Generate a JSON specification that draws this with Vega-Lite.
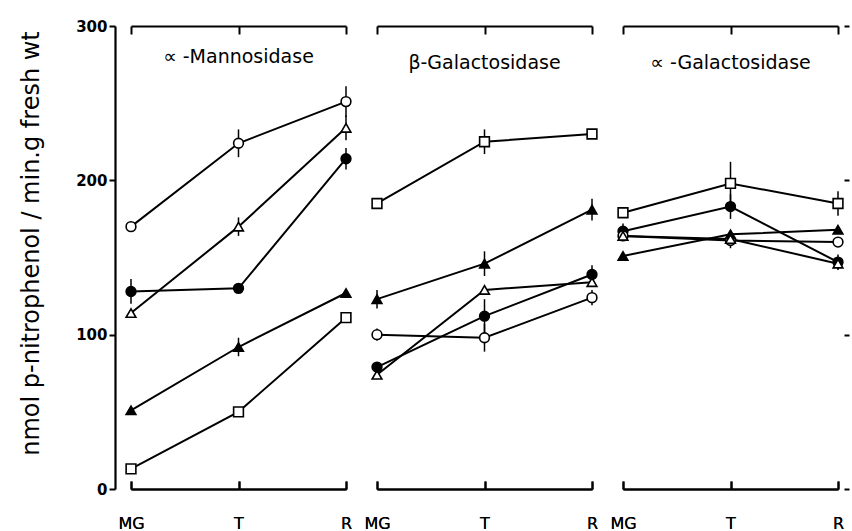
{
  "$schema": "https://vega.github.io/schema/vega-lite/v6.json",
  "autosize": {"type": "pad"},
  "padding": {"left": 19, "top": 19, "right": 0, "bottom": 0},
  "background": "white",
  "bounds": "flush",
  "spacing": 31,
  "config": {
    "view": {"stroke": null},
    "font": "DejaVu Sans",
    "axis": {"domainColor": "black", "tickColor": "black", "labelColor": "black", "titleColor": "black", "grid": false, "domainWidth": 2.2, "tickWidth": 2},
    "title": {"color": "black", "font": "DejaVu Sans", "fontSize": 19, "fontWeight": "normal", "anchor": "middle", "frame": "group", "baseline": "middle", "offset": -48}
  },
  "data": {"values": [
    {"enzyme": "aMan", "stage": "MG", "series": "open circle", "value": 170, "err": 0},
    {"enzyme": "aMan", "stage": "T", "series": "open circle", "value": 224, "err": 9},
    {"enzyme": "aMan", "stage": "R", "series": "open circle", "value": 251, "err": 10},
    {"enzyme": "aMan", "stage": "MG", "series": "open triangle", "value": 114, "err": 0},
    {"enzyme": "aMan", "stage": "T", "series": "open triangle", "value": 170, "err": 6},
    {"enzyme": "aMan", "stage": "R", "series": "open triangle", "value": 234, "err": 8},
    {"enzyme": "aMan", "stage": "MG", "series": "filled circle", "value": 128, "err": 8},
    {"enzyme": "aMan", "stage": "T", "series": "filled circle", "value": 130, "err": 0},
    {"enzyme": "aMan", "stage": "R", "series": "filled circle", "value": 214, "err": 7},
    {"enzyme": "aMan", "stage": "MG", "series": "filled triangle", "value": 51, "err": 0},
    {"enzyme": "aMan", "stage": "T", "series": "filled triangle", "value": 92, "err": 6},
    {"enzyme": "aMan", "stage": "R", "series": "filled triangle", "value": 127, "err": 0},
    {"enzyme": "aMan", "stage": "MG", "series": "open square", "value": 13, "err": 0},
    {"enzyme": "aMan", "stage": "T", "series": "open square", "value": 50, "err": 0},
    {"enzyme": "aMan", "stage": "R", "series": "open square", "value": 111, "err": 0},

    {"enzyme": "bGal", "stage": "MG", "series": "open square", "value": 185, "err": 0},
    {"enzyme": "bGal", "stage": "T", "series": "open square", "value": 225, "err": 8},
    {"enzyme": "bGal", "stage": "R", "series": "open square", "value": 230, "err": 0},
    {"enzyme": "bGal", "stage": "MG", "series": "filled triangle", "value": 123, "err": 6},
    {"enzyme": "bGal", "stage": "T", "series": "filled triangle", "value": 146, "err": 8},
    {"enzyme": "bGal", "stage": "R", "series": "filled triangle", "value": 181, "err": 7},
    {"enzyme": "bGal", "stage": "MG", "series": "open triangle", "value": 74, "err": 0},
    {"enzyme": "bGal", "stage": "T", "series": "open triangle", "value": 129, "err": 0},
    {"enzyme": "bGal", "stage": "R", "series": "open triangle", "value": 134, "err": 0},
    {"enzyme": "bGal", "stage": "MG", "series": "filled circle", "value": 79, "err": 0},
    {"enzyme": "bGal", "stage": "T", "series": "filled circle", "value": 112, "err": 11},
    {"enzyme": "bGal", "stage": "R", "series": "filled circle", "value": 139, "err": 6},
    {"enzyme": "bGal", "stage": "MG", "series": "open circle", "value": 100, "err": 4},
    {"enzyme": "bGal", "stage": "T", "series": "open circle", "value": 98, "err": 9},
    {"enzyme": "bGal", "stage": "R", "series": "open circle", "value": 124, "err": 5},

    {"enzyme": "aGal", "stage": "MG", "series": "open square", "value": 179, "err": 0},
    {"enzyme": "aGal", "stage": "T", "series": "open square", "value": 198, "err": 14},
    {"enzyme": "aGal", "stage": "R", "series": "open square", "value": 185, "err": 8},
    {"enzyme": "aGal", "stage": "MG", "series": "filled circle", "value": 167, "err": 5},
    {"enzyme": "aGal", "stage": "T", "series": "filled circle", "value": 183, "err": 8},
    {"enzyme": "aGal", "stage": "R", "series": "filled circle", "value": 147, "err": 5},
    {"enzyme": "aGal", "stage": "MG", "series": "open circle", "value": 164, "err": 0},
    {"enzyme": "aGal", "stage": "T", "series": "open circle", "value": 161, "err": 5},
    {"enzyme": "aGal", "stage": "R", "series": "open circle", "value": 160, "err": 0},
    {"enzyme": "aGal", "stage": "MG", "series": "filled triangle", "value": 151, "err": 0},
    {"enzyme": "aGal", "stage": "T", "series": "filled triangle", "value": 165, "err": 0},
    {"enzyme": "aGal", "stage": "R", "series": "filled triangle", "value": 168, "err": 0},
    {"enzyme": "aGal", "stage": "MG", "series": "open triangle", "value": 164, "err": 0},
    {"enzyme": "aGal", "stage": "T", "series": "open triangle", "value": 162, "err": 0},
    {"enzyme": "aGal", "stage": "R", "series": "open triangle", "value": 146, "err": 4}
  ]},
  "hconcat": [
    {
      "width": 215, "height": 463,
      "title": {"text": "∝ -Mannosidase"},
      "transform": [{"filter": "datum.enzyme === 'aMan'"}],
      "encoding": {
        "x": {"field": "stage", "type": "ordinal", "sort": ["MG", "T", "R"], "scale": {"type": "point", "padding": 0},
              "axis": {"orient": "bottom", "title": null, "labelAngle": 0, "tickSize": -8, "labelPadding": 34, "labelFontSize": 16, "labelFont": "DejaVu Sans"}},
        "y": {"field": "value", "type": "quantitative", "scale": {"domain": [0, 300], "nice": false},
              "axis": {"orient": "left", "offset": 16, "values": [0, 100, 200, 300], "tickSize": 6, "labelPadding": 2, "labelFontSize": 15, "labelFontWeight": "bold",
                       "title": "nmol p-nitrophenol / min.g fresh wt", "titleFontSize": 24, "titleFontWeight": "normal", "titlePadding": 32, "titleY": 217}}
      },
      "layer": [
        {
          "mark": {"type": "line", "color": "black", "strokeWidth": 2},
          "encoding": {"detail": {"field": "series"}}
        },
        {
          "transform": [{"filter": "datum.err > 0"}],
          "mark": {"type": "errorbar", "color": "black", "thickness": 1.5},
          "encoding": {"yError": {"field": "err"}}
        },
        {
          "mark": {"type": "point", "filled": true, "size": 95, "opacity": 1, "stroke": "black", "strokeWidth": 1.6},
          "encoding": {
            "x": {"field": "stage", "type": "ordinal", "sort": ["MG", "T", "R"],
                  "axis": {"orient": "top", "title": null, "labels": false, "tickSize": -8}},
            "shape": {"field": "series", "type": "nominal", "legend": null,
                      "scale": {"domain": ["open circle", "open triangle", "filled circle", "filled triangle", "open square"], "range": ["circle", "triangle-up", "circle", "triangle-up", "square"]}},
            "fill": {"field": "series", "type": "nominal", "legend": null,
                     "scale": {"domain": ["open circle", "open triangle", "filled circle", "filled triangle", "open square"], "range": ["white", "white", "black", "black", "white"]}}
          }
        }
      ]
    },
    {
      "width": 215, "height": 463,
      "title": {"text": "β-Galactosidase"},
      "transform": [{"filter": "datum.enzyme === 'bGal'"}],
      "encoding": {
        "x": {"field": "stage", "type": "ordinal", "sort": ["MG", "T", "R"], "scale": {"type": "point", "padding": 0},
              "axis": {"orient": "bottom", "title": null, "labelAngle": 0, "tickSize": -8, "labelPadding": 34, "labelFontSize": 16, "labelFont": "DejaVu Sans"}},
        "y": {"field": "value", "type": "quantitative", "scale": {"domain": [0, 300], "nice": false}, "axis": null}
      },
      "layer": [
        {
          "mark": {"type": "line", "color": "black", "strokeWidth": 2},
          "encoding": {"detail": {"field": "series"}}
        },
        {
          "transform": [{"filter": "datum.err > 0"}],
          "mark": {"type": "errorbar", "color": "black", "thickness": 1.5},
          "encoding": {"yError": {"field": "err"}}
        },
        {
          "mark": {"type": "point", "filled": true, "size": 95, "opacity": 1, "stroke": "black", "strokeWidth": 1.6},
          "encoding": {
            "x": {"field": "stage", "type": "ordinal", "sort": ["MG", "T", "R"],
                  "axis": {"orient": "top", "title": null, "labels": false, "tickSize": -8}},
            "shape": {"field": "series", "type": "nominal", "legend": null,
                      "scale": {"domain": ["open circle", "open triangle", "filled circle", "filled triangle", "open square"], "range": ["circle", "triangle-up", "circle", "triangle-up", "square"]}},
            "fill": {"field": "series", "type": "nominal", "legend": null,
                     "scale": {"domain": ["open circle", "open triangle", "filled circle", "filled triangle", "open square"], "range": ["white", "white", "black", "black", "white"]}}
          }
        }
      ]
    },
    {
      "width": 215, "height": 463,
      "title": {"text": "∝ -Galactosidase"},
      "transform": [{"filter": "datum.enzyme === 'aGal'"}],
      "encoding": {
        "x": {"field": "stage", "type": "ordinal", "sort": ["MG", "T", "R"], "scale": {"type": "point", "padding": 0},
              "axis": {"orient": "bottom", "title": null, "labelAngle": 0, "tickSize": -8, "labelPadding": 34, "labelFontSize": 16, "labelFont": "DejaVu Sans"}},
        "y": {"field": "value", "type": "quantitative", "scale": {"domain": [0, 300], "nice": false},
              "axis": {"orient": "right", "offset": 6, "values": [0, 100, 200, 300], "domain": false, "labels": false, "tickSize": 5, "title": null}}
      },
      "layer": [
        {
          "mark": {"type": "line", "color": "black", "strokeWidth": 2},
          "encoding": {"detail": {"field": "series"}}
        },
        {
          "transform": [{"filter": "datum.err > 0"}],
          "mark": {"type": "errorbar", "color": "black", "thickness": 1.5},
          "encoding": {"yError": {"field": "err"}}
        },
        {
          "mark": {"type": "point", "filled": true, "size": 95, "opacity": 1, "stroke": "black", "strokeWidth": 1.6},
          "encoding": {
            "x": {"field": "stage", "type": "ordinal", "sort": ["MG", "T", "R"],
                  "axis": {"orient": "top", "title": null, "labels": false, "tickSize": -8}},
            "shape": {"field": "series", "type": "nominal", "legend": null,
                      "scale": {"domain": ["open circle", "open triangle", "filled circle", "filled triangle", "open square"], "range": ["circle", "triangle-up", "circle", "triangle-up", "square"]}},
            "fill": {"field": "series", "type": "nominal", "legend": null,
                     "scale": {"domain": ["open circle", "open triangle", "filled circle", "filled triangle", "open square"], "range": ["white", "white", "black", "black", "white"]}}
          }
        }
      ]
    }
  ]
}
